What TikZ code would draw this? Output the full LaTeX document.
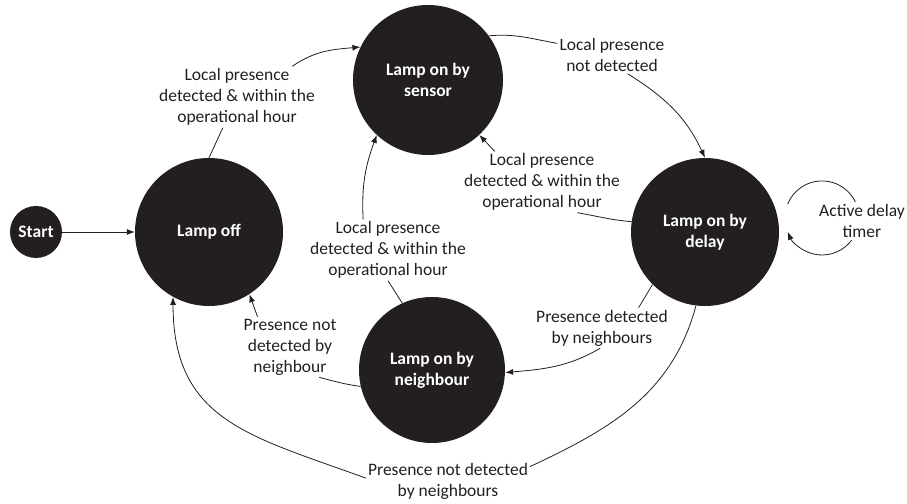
\documentclass[tikz,border=0pt]{standalone}
\usepackage{fontspec}
\setmainfont{Carlito}
\usetikzlibrary{arrows.meta}
\definecolor{ink}{HTML}{231F20}
\begin{document}
\begin{tikzpicture}[x=1pt,y=1pt,
  state/.style={circle,fill=ink,text=white,inner sep=0pt,align=center,font=\bfseries\fontsize{17.5}{21}\selectfont},
  lbl/.style={align=center,inner sep=2pt,text=ink,font=\fontsize{17.5}{21}\selectfont},
  edge/.style={draw=ink,line width=0.8pt},
  arr/.style={edge,-{Latex[length=8pt,width=6pt]}}]
\useasboundingbox (0,0) rectangle (907,503);
% states
\node[state,minimum size=52pt]  (start)  at (36,271)  {Start};
\node[state,minimum size=148pt] (off)    at (209,271) {Lamp off};
\node[state,minimum size=150pt] (sensor) at (428,423) {Lamp on by\\sensor};
\node[state,minimum size=148pt] (delay)  at (705,271) {Lamp on by\\delay};
\node[state,minimum size=146pt] (neigh)  at (432,133) {Lamp on by\\neighbour};
% labels
\node[lbl] (L1) at (237,406) {Local presence\\detected \& within the\\operational hour};
\node[lbl] (L2) at (612,448) {Local presence\\not detected};
\node[lbl] (L3) at (542,321) {Local presence\\detected \& within the\\operational hour};
\node[lbl] (L4) at (388,253) {Local presence\\detected \& within the\\operational hour};
\node[lbl] (L5) at (602,175) {Presence detected\\by neighbours};
\node[lbl] (L6) at (290,156) {Presence not\\detected by\\neighbour};
\node[lbl] (L7) at (448,22)  {Presence not detected\\by neighbours};
% connectors
\draw[arr] (start) -- (off);
\draw[edge] (off.90) -- (L1);
\draw[arr] (L1.29) to[out=35,in=185] (sensor.154);
\draw[edge] (sensor.36) to[out=5,in=170] (L2.168);
\draw[arr] (L2.-50) to[out=-32,in=115] (delay.north);
\draw[edge] (delay.172) to[out=175,in=-10] (L3.-41);
\draw[arr] (L3.147) -- (sensor.-47);
\draw[edge] (neigh.114) -- (L4.south);
\draw[arr] (L4.129) to[out=93,in=-110] (sensor.-133);
\draw[edge] (delay.-135) -- (L5.29);
\draw[arr] (L5.-95) to[out=-150,in=5] (neigh.-2);
\draw[edge] (neigh.193) to[out=172,in=-15] (L6.-46);
\draw[arr] (L6.137) -- (off.-57);
\draw[edge] (delay.-97) to[out=-105,in=25] (L7.10);
\draw[arr] (L7.178) to[out=160,in=-90,looseness=1.2] (off.-119);
% self loop on delay
\coordinate (lpS) at (787.7,298.9);
\draw[arr] (lpS) arc[start angle=158,end angle=-158,radius=37];
\node[lbl,fill=white] (L8) at (862,282) {Active delay\\timer};
\end{tikzpicture}
\end{document}
